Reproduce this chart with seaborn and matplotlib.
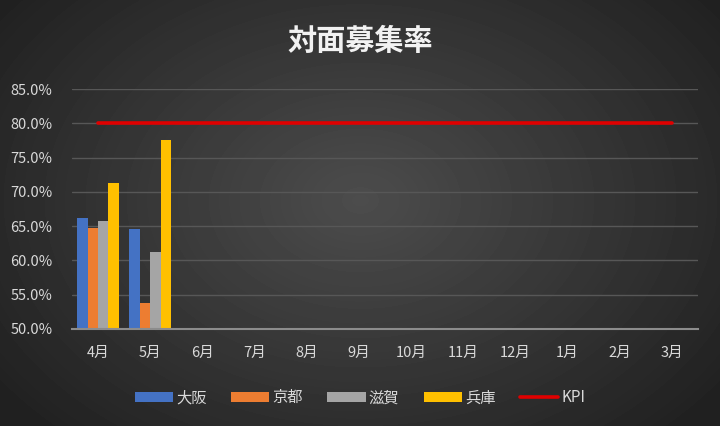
import numpy as np
import pandas as pd
import matplotlib
matplotlib.use("Agg")
import matplotlib.pyplot as plt
import seaborn as sns
from matplotlib.patches import Patch
from matplotlib.lines import Line2D

months = ["4月", "5月", "6月", "7月", "8月", "9月", "10月", "11月", "12月", "1月", "2月", "3月"]
regions = ["大阪", "京都", "滋賀", "兵庫"]
osaka = [0.662, 0.646]
kyoto = [0.647, 0.538]
shiga = [0.657, 0.612]
hyogo = [0.713, 0.775]
kpi = [0.80] * 12
title = "対面募集率"
ytick_vals = [0.50, 0.55, 0.60, 0.65, 0.70, 0.75, 0.80, 0.85]

colors = ["#4472C4", "#ED7D31", "#A5A5A5", "#FFC000"]
kpi_color = "#E00000"
text_color = "#D9D9D9"

sns.set_theme(style="dark")
plt.rcParams["font.family"] = ["Noto Sans CJK JP", "DejaVu Sans"]

rows = []
for reg, vals in zip(regions, [osaka, kyoto, shiga, hyogo]):
    for m, v in zip(months, vals):
        rows.append({"month": m, "region": reg, "value": v})
df = pd.DataFrame(rows)

fig = plt.figure(figsize=(7.2, 4.26), dpi=100)

# radial gradient background
bg = fig.add_axes([0, 0, 1, 1], zorder=-10)
yy, xx = np.mgrid[0:426, 0:720]
r = np.sqrt(((xx - 360) / 420.0) ** 2 + ((yy - 200) / 300.0) ** 2)
shade = np.clip(0.30 - 0.16 * r, 0.13, 0.30)
bg.imshow(shade, cmap="gray", vmin=0, vmax=1, aspect="auto", extent=[0, 1, 0, 1])
bg.set_axis_off()

ax = fig.add_axes([0.1, 0.228, 0.869, 0.563])
ax.patch.set_alpha(0)

sns.barplot(data=df, x="month", y="value", hue="region", order=months,
            hue_order=regions, palette=colors, saturation=1, width=0.8, ax=ax,
            edgecolor="none", linewidth=0, errorbar=None, legend=False)
sns.lineplot(x=np.arange(len(months)), y=kpi, color=kpi_color, linewidth=2.6, ax=ax, legend=False)

ax.set_ylim(0.50, 0.85)
ax.set_xlim(-0.5, len(months) - 0.5)
ax.set_yticks(ytick_vals)
ax.set_yticklabels([f"{v*100:.1f}%" for v in ytick_vals])
ax.set_xticks(np.arange(len(months)))
ax.set_xticklabels(months)
ax.set_xlabel("")
ax.set_ylabel("")
ax.grid(axis="y", color="#575757", linewidth=1)
ax.grid(axis="x", visible=False)
ax.set_axisbelow(True)
for s in ["top", "right", "left"]:
    ax.spines[s].set_visible(False)
ax.spines["bottom"].set_color("#8C8C8C")
ax.spines["bottom"].set_linewidth(1.5)
ax.tick_params(axis="both", colors=text_color, labelsize=10.5, length=0)
ax.tick_params(axis="x", pad=12)
ax.tick_params(axis="y", pad=14)

fig.text(0.5, 0.903, title, ha="center", va="center", fontsize=21,
         fontweight="bold", color="#F2F2F2")

handles = [Patch(facecolor=c, edgecolor="none") for c in colors]
handles.append(Line2D([0], [0], color=kpi_color, linewidth=2.6))
labels = regions + ["KPI"]
leg = fig.legend(handles, labels, loc="center", bbox_to_anchor=(0.5, 0.066), ncol=5,
                 frameon=False, fontsize=11, handlelength=2.5, handleheight=0.55,
                 handletextpad=0.2, columnspacing=1.6)
for t in leg.get_texts():
    t.set_color(text_color)

fig.savefig("out.png", dpi=100)
